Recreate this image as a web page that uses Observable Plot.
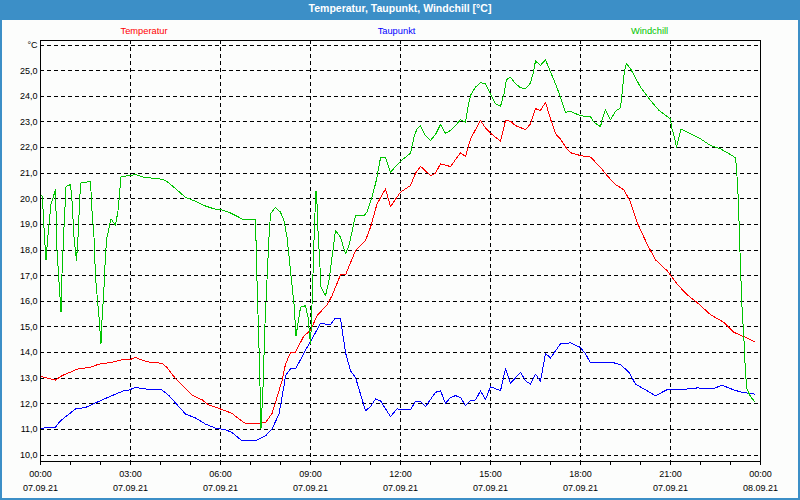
<!DOCTYPE html>
<html>
<head>
<meta charset="utf-8">
<script src="https://cdn.jsdelivr.net/npm/d3@7"></script>
<script src="https://cdn.jsdelivr.net/npm/@observablehq/plot@0.6"></script>
<style>
  html, body { margin: 0; padding: 0; background: #fff; }
  #outer { position: relative; width: 800px; height: 500px; background: #3c8fc7; overflow: hidden;
           font-family: "Liberation Sans", Arial, sans-serif; }
  #title { position: absolute; left: 0; top: 0; width: 800px; height: 20px; line-height: 17px;
           text-align: center; color: #fff; font-weight: bold; font-size: 10.5px; }
  #inner { position: absolute; left: 2px; top: 20px; width: 796px; height: 478px; background: #fcfdfc; }
  .leg { position: absolute; top: 6px; font-size: 9.3px; line-height: 10px; white-space: nowrap; transform: translateX(-50%); }
  #inner svg { position: absolute; left: 0; top: 0; }
</style>
</head>
<body>
<div id="outer">
  <div id="title">Temperatur, Taupunkt, Windchill [°C]</div>
  <div id="inner"></div>
</div>
<script>
// ---- Data (minutes since 07.09.21 00:00, values in °C) ----
const seriesNames = ["Temperatur", "Taupunkt", "Windchill"];
const seriesColors = ["#ff0000", "#0000ff", "#00c400"];

const tempMin = [2,30,43,77,97,117,143,163,177,190,203,213,243,253,267,303,323,337,357,383,397,410,430,450,463,473,483,490,500,510,527,540,553,573,583,600,610,630,650,660,673,690,700,720,740,750,760,780,790,800,820,840,850,860,880,890,900,920,930,940,950,970,980,990,1000,1010,1020,1030,1040,1050,1060,1080,1100,1120,1133,1150,1167,1180,1193,1213,1230,1253,1273,1293,1313,1340,1367,1387,1407,1428];
const tempVal = [13.06,12.93,13.1,13.38,13.41,13.55,13.62,13.72,13.71,13.81,13.71,13.64,13.58,13.42,13.06,12.34,12.16,11.95,11.82,11.63,11.41,11.23,11.23,11.27,11.62,12.25,12.9,13.55,14.0,14.02,14.66,14.86,15.44,15.86,16.22,17.03,17.03,17.98,18.37,18.89,19.8,20.39,19.7,20.26,20.52,21.0,21.27,20.91,21.0,21.37,21.26,21.8,21.65,22.34,23.06,22.77,22.56,22.25,23.06,23.03,22.86,22.7,22.93,23.52,23.45,23.77,23.12,22.54,22.34,22.02,21.8,21.69,21.63,21.23,20.91,20.56,20.35,19.87,19.09,18.24,17.62,17.2,16.68,16.26,15.96,15.48,15.18,14.79,14.62,14.43];

const dewMin = [2,30,40,70,90,123,150,167,173,190,210,243,257,290,310,330,350,370,383,403,430,450,463,477,487,490,500,510,533,540,560,580,590,600,610,620,630,650,660,670,680,700,713,740,750,760,770,790,800,810,820,830,840,850,860,870,880,890,900,920,930,940,960,970,980,990,1000,1010,1020,1030,1040,1060,1080,1090,1100,1120,1143,1160,1177,1190,1213,1230,1253,1273,1313,1347,1363,1387,1403,1428];
const dewVal = [11.05,11.09,11.34,11.8,11.86,12.15,12.38,12.51,12.51,12.64,12.58,12.54,12.32,11.6,11.45,11.21,11.05,10.99,10.88,10.56,10.56,10.75,11.02,11.6,12.71,13.1,13.36,13.36,14.2,14.43,15.14,15.09,15.35,15.34,14.0,13.29,13.03,11.73,11.89,12.19,12.12,11.5,11.8,11.77,12.1,12.09,11.89,12.45,12.51,12.02,12.25,12.32,12.25,11.93,12.12,12.15,12.51,12.16,12.67,12.51,13.38,12.8,13.23,12.9,12.77,13.16,12.88,13.97,13.79,14.07,14.34,14.38,14.2,13.95,13.6,13.62,13.62,13.53,13.23,12.77,12.51,12.32,12.55,12.54,12.62,12.6,12.73,12.54,12.45,12.38];

const windMin = [3,5,8,11,13,17,21,30,33,39,41,43,47,51,60,63,67,72,75,79,81,100,103,107,110,117,121,123,127,130,133,141,150,155,157,161,180,190,207,237,250,267,290,307,327,347,363,380,407,430,433,438,441,445,449,452,457,460,470,480,487,493,500,507,511,517,520,530,535,540,542,545,548,551,553,555,558,561,570,577,583,590,600,610,617,630,647,653,663,672,680,690,700,710,720,740,747,753,760,770,780,790,800,810,820,830,840,850,855,860,870,880,890,900,910,920,927,932,940,950,960,970,980,985,990,1000,1010,1020,1030,1040,1050,1060,1080,1100,1107,1120,1123,1130,1140,1150,1160,1163,1168,1172,1180,1200,1220,1237,1260,1262,1267,1272,1277,1281,1300,1320,1340,1360,1380,1390,1392,1395,1397,1400,1403,1407,1410,1413,1420,1428];
const windVal = [20.13,19.61,18.5,17.62,18.11,19.02,19.8,20.35,17.98,16.16,15.57,17.07,18.89,20.48,20.56,19.93,18.5,17.59,18.5,20.19,20.62,20.68,19.54,18.5,16.94,15.38,14.34,15.25,16.55,17.85,18.5,19.22,18.96,19.54,19.93,20.87,20.91,20.95,20.84,20.78,20.72,20.45,20.06,19.93,19.74,19.61,19.57,19.45,19.18,19.18,16.81,13.55,11.02,12.64,15.12,16.42,18.5,19.41,19.67,19.48,19.15,18.5,17.2,15.9,14.66,15.38,15.77,15.83,15.38,14.34,15.25,17.07,19.02,20.32,19.8,18.76,17.72,16.55,16.22,16.81,17.72,18.76,18.5,17.85,18.18,19.35,19.35,19.48,20.06,20.75,21.6,21.63,21.04,21.26,21.47,21.78,22.41,22.73,22.85,22.47,22.28,22.51,22.9,22.56,22.67,22.86,23.09,22.99,23.58,24.04,24.36,24.53,24.49,24.1,23.71,23.61,24.1,24.65,24.75,24.49,24.34,24.3,24.52,24.88,25.38,25.21,25.43,24.95,24.49,23.97,23.38,23.42,23.24,23.21,22.99,22.82,23.06,23.48,23.09,23.42,23.55,24.1,25.01,25.27,25.08,24.36,23.84,23.45,23.12,22.8,22.47,22.02,22.41,22.73,22.54,22.34,22.08,21.95,21.73,21.6,21.23,20.19,19.15,17.33,15.77,14.46,13.16,12.58,12.28,12.1];

// ---- Axis ticks / labels ----
const yTicks = [10,11,12,13,14,15,16,17,18,19,20,21,22,23,24,25,26];
const yTickLabels = ["10,0","11,0","12,0","13,0","14,0","15,0","16,0","17,0","18,0","19,0","20,0","21,0","22,0","23,0","24,0","25,0","°C"];
const hourTicks = [0,60,120,180,240,300,360,420,480,540,600,660,720,780,840,900,960,1020,1080,1140,1200,1260,1320,1380,1440];
const labelMinutes = [0,180,360,540,720,900,1080,1260,1440];
const hourLabels = ["00:00","03:00","06:00","09:00","12:00","15:00","18:00","21:00","00:00"];
const dateLabels = ["07.09.21","07.09.21","07.09.21","07.09.21","07.09.21","07.09.21","07.09.21","07.09.21","08.09.21"];
const gridMinutes = [180,360,540,720,900,1080,1260];

const toRows = (ms, vs) => ms.map((m, i) => ({m, v: vs[i]}));
const tempRows = toRows(tempMin, tempVal);
const dewRows = toRows(dewMin, dewVal);
const windRows = toRows(windMin, windVal);

const inner = document.getElementById("inner");

// legend
const legendX = [142, 394.5, 647.5];
seriesNames.forEach((name, i) => {
  const s = document.createElement("div");
  s.className = "leg";
  s.textContent = name;
  s.style.left = legendX[i] + "px";
  s.style.color = seriesColors[i];
  inner.appendChild(s);
});

const chart = Plot.plot({
  width: 796,
  height: 478,
  marginLeft: 38,
  marginRight: 38,
  marginTop: 20,
  marginBottom: 37,
  style: {background: "transparent", fontFamily: "'Liberation Sans', Arial, sans-serif", fontSize: "9px", color: "#000", overflow: "visible"},
  x: {type: "linear", domain: [0, 1440]},
  y: {domain: [9.75, 26.18]},
  marks: [
    Plot.gridY(yTicks, {stroke: "#000", strokeOpacity: 1, strokeDasharray: "4,3", shapeRendering: "crispEdges"}),
    Plot.gridX(gridMinutes, {stroke: "#000", strokeOpacity: 1, strokeDasharray: "4,3", shapeRendering: "crispEdges"}),
    Plot.line(tempRows, {x: "m", y: "v", stroke: seriesColors[0], strokeWidth: 1, shapeRendering: "crispEdges"}),
    Plot.line(dewRows, {x: "m", y: "v", stroke: seriesColors[1], strokeWidth: 1, shapeRendering: "crispEdges"}),
    Plot.line(windRows, {x: "m", y: "v", stroke: seriesColors[2], strokeWidth: 1, shapeRendering: "crispEdges"}),
    Plot.frame({stroke: "#000", shapeRendering: "crispEdges"}),
    Plot.axisY(yTicks, {tickSize: 0, tickPadding: 3, fontSize: 9, fill: "#000", label: null,
      tickFormat: d => yTickLabels[yTicks.indexOf(d)]}),
    Plot.axisX(hourTicks, {tickSize: 4, tickPadding: 1, fontSize: 9, fill: "#000", stroke: "#000", lineHeight: 1.6,
      label: null, shapeRendering: "crispEdges",
      tickFormat: d => {
        const i = labelMinutes.indexOf(d);
        return i < 0 ? "" : hourLabels[i] + "\n" + dateLabels[i];
      }})
  ]
});
inner.appendChild(chart);
</script>
</body>
</html>
